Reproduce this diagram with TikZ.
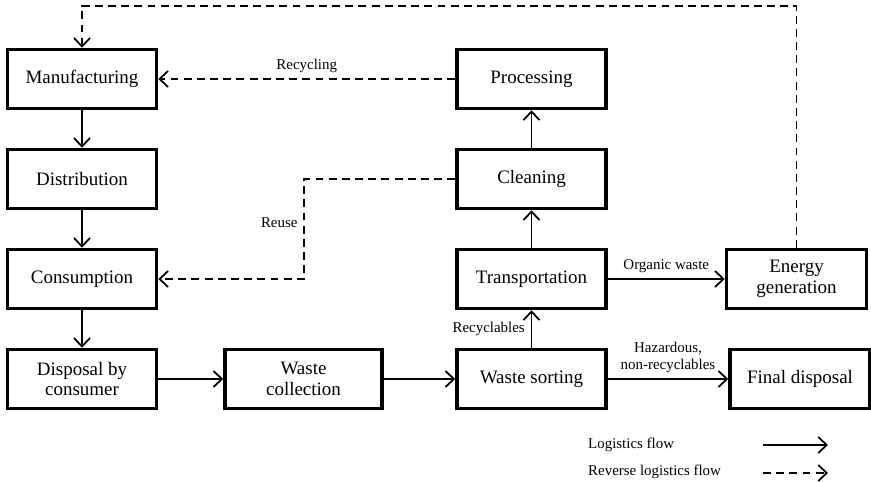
\documentclass[tikz,border=0pt]{standalone}
\usepackage{fontspec}
\setmainfont{Liberation Serif}
\usetikzlibrary{arrows.meta,positioning}

\begin{document}
\begin{tikzpicture}[node distance={20mm}, >={Straight Barb[length=1.7mm,width=3.2mm]}, main/.style = {draw, line width=2pt, minimum width=29.8mm, minimum height=11.8mm, align=center, font=\fontsize{10.8}{11.6}\selectfont}, flow/.style = {->, line width=1pt}, rev/.style = {->, line width=1pt, dash pattern=on 4.5pt off 3pt}, lbl/.style = {font=\fontsize{8.5}{9.6}\selectfont, align=center}]
\useasboundingbox (0,0) rectangle (17.42,-9.64);
\node[main] (1) at (1.64,-1.58) {Manufacturing};
\node[main] (2) [below of=1] {Distribution};
\node[main] (3) [below of=2] {Consumption};
\node[main] (4) [below of=3] {Disposal by\\consumer};
\node[main, minimum width=31.4mm] (5) [right of=4, node distance=44.3mm] {Waste\\collection};
\node[main] (6) [right of=5, node distance=45.6mm] {Waste sorting};
\node[main, minimum width=28mm] (7) [right of=6, node distance=53.7mm] {Final disposal};
\node[main] (8) [above of=6] {Transportation};
\node[main, minimum width=28mm] (9) [right of=8, node distance=53mm] {Energy\\generation};
\node[main] (10) [above of=8] {Cleaning};
\node[main] (11) [above of=10] {Processing};
\node[lbl, anchor=west] (12) at (11.64,-8.9) {Logistics flow};
\node[lbl, anchor=west] (13) at (11.64,-9.44) {Reverse logistics flow};
\coordinate (14) at (15.26,-8.9);
\coordinate (15) at (16.56,-8.9);
\coordinate (16) at (15.26,-9.46);
\coordinate (17) at (16.56,-9.46);
\draw[flow] (1) -- (2);
\draw[flow] (2) -- (3);
\draw[flow] (3) -- (4);
\draw[flow] (4) -- (5);
\draw[flow] (5) -- (6);
\draw[flow] (6) -- node[lbl, left] {Recyclables} (8);
\draw[flow] (8) -- node[lbl, above] {Organic waste} (9);
\draw[flow] (6) -- node[lbl, above] {Hazardous,\\non-recyclables} (7);
\draw[flow] (8) -- (10);
\draw[flow] (10) -- (11);
\draw[rev] (11) -- node[lbl, above] {Recycling} (1);
\draw[rev] (10.west) -- ++(-3.02,0) |- node[lbl, left, pos=0.22] {Reuse} (3.east);
\draw[rev] (9.north) -- ++(0,4.84) -| (1.north);
\draw[flow] (14) -- (15);
\draw[rev] (16) -- (17);
\end{tikzpicture}
\end{document}
